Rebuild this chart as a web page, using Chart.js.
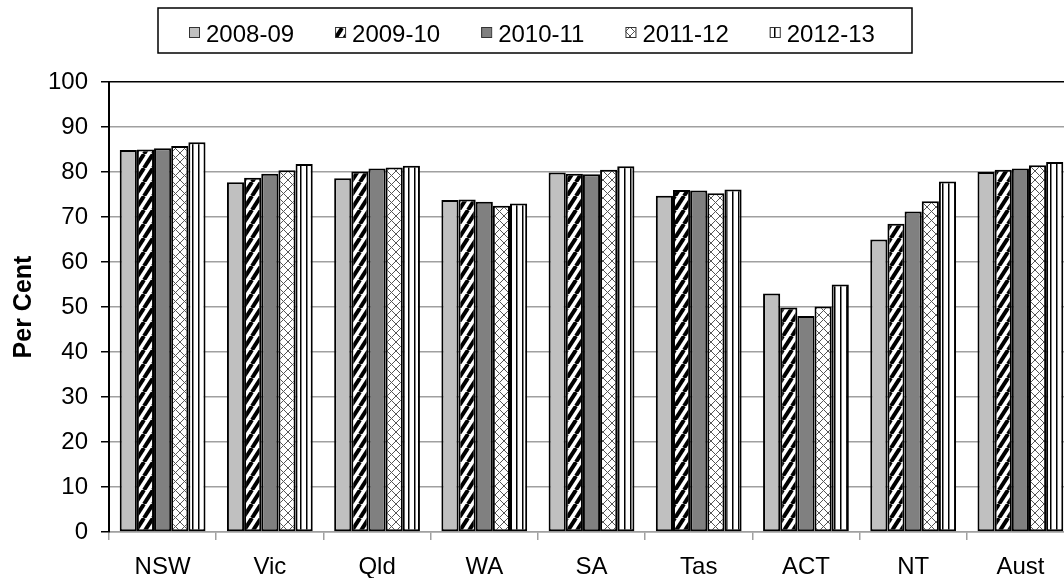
<!DOCTYPE html>
<html>
<head>
<title>Per Cent by state</title>
<script src="https://cdn.jsdelivr.net/npm/chart.js"></script>
<style>
  html, body { margin: 0; padding: 0; background: #fff; overflow: hidden; }
  .wrap { width: 1090px; height: 578px; position: relative; }
</style>
</head>
<body>
<div class="wrap"><canvas id="c"></canvas></div>
<script>
// data
const states = ['NSW', 'Vic', 'Qld', 'WA', 'SA', 'Tas', 'ACT', 'NT', 'Aust'];
const years = ['2008-09', '2009-10', '2010-11', '2011-12', '2012-13'];
const v0809 = [84.9, 77.7, 78.6, 73.8, 79.9, 74.7, 53.0, 65.0, 80.0];
const v0910 = [85.0, 78.7, 80.1, 73.9, 79.6, 76.0, 49.9, 68.5, 80.5];
const v1011 = [85.3, 79.6, 80.8, 73.4, 79.5, 75.9, 48.0, 71.2, 80.8];
const v1112 = [85.8, 80.4, 81.0, 72.5, 80.5, 75.3, 50.1, 73.5, 81.5];
const v1213 = [86.6, 81.8, 81.4, 73.0, 81.3, 76.1, 55.0, 77.9, 82.2];
const yMin = 0, yMax = 100, yStep = 10;
const yTitle = 'Per Cent';

const FONT = '"Liberation Sans", Arial, sans-serif';

// fill patterns
function tile(w, h, draw) {
  const c = document.createElement('canvas');
  c.width = w; c.height = h;
  const g = c.getContext('2d');
  g.fillStyle = '#fff';
  g.fillRect(0, 0, w, h);
  draw(g);
  return document.createElement('canvas').getContext('2d').createPattern(c, 'repeat');
}
const stripes = tile(9, 14, g => {
  g.strokeStyle = '#000';
  g.lineWidth = 4;
  for (let k = -1; k <= 1; k++) {
    g.beginPath();
    g.moveTo(k * 9, 14);
    g.lineTo(k * 9 + 9, 0);
    g.stroke();
  }
});
const cross = tile(9, 9, g => {
  g.strokeStyle = '#555';
  g.lineWidth = 1;
  g.beginPath();
  g.moveTo(0, 0); g.lineTo(9, 9);
  g.moveTo(9, 0); g.lineTo(0, 9);
  g.stroke();
});
const vlines = tile(6, 6, g => {
  g.fillStyle = '#000';
  g.fillRect(0, 0, 1.5, 6);
});

const fills = ['#c0c0c0', stripes, '#808080', cross, vlines];
const series = [v0809, v0910, v1011, v1112, v1213];

// boxed legend like the original
const boxLegend = {
  id: 'boxLegend',
  afterDraw(chart) {
    const ctx = chart.ctx;
    ctx.save();
    ctx.lineWidth = 1.5;
    ctx.strokeStyle = '#000';
    ctx.strokeRect(158, 8, 754, 45);
    ctx.font = '24px ' + FONT;
    ctx.textBaseline = 'alphabetic';
    let x = 189;
    chart.data.datasets.forEach(ds => {
      ctx.fillStyle = ds.backgroundColor;
      ctx.fillRect(x, 27, 10, 10);
      ctx.lineWidth = 1;
      ctx.strokeStyle = '#333';
      ctx.strokeRect(x + 0.5, 27.5, 10, 10);
      ctx.fillStyle = '#000';
      ctx.fillText(ds.label, x + 17, 42);
      x += 17 + ctx.measureText(ds.label).width + 41;
    });
    ctx.restore();
  }
};

new Chart(document.getElementById('c'), {
  type: 'bar',
  data: {
    labels: states,
    datasets: years.map((y, i) => ({
      label: y,
      data: series[i],
      backgroundColor: fills[i],
      borderColor: '#000',
      borderWidth: 2,
      borderSkipped: false,
      categoryPercentage: 0.8,
      barPercentage: 1.0
    }))
  },
  options: {
    responsive: true,
    maintainAspectRatio: false,
    animation: false,
    layout: { padding: { top: 82, right: 16, left: 0, bottom: 0 } },
    plugins: {
      legend: { display: false },
      tooltip: { enabled: false }
    },
    scales: {
      x: {
        grid: { drawOnChartArea: false, color: '#a0a0a0', lineWidth: 1.5, tickLength: 8, offset: true },
        border: { color: '#a0a0a0', width: 1.5 },
        ticks: { font: { family: FONT, size: 24 }, color: '#000', padding: 13, maxRotation: 0 },
        afterFit(s) { s.height = 46; }
      },
      y: {
        min: yMin,
        max: yMax,
        ticks: { stepSize: yStep, font: { family: FONT, size: 24 }, color: '#000', padding: 13 },
        grid: {
          color: c => c.tick && c.tick.value === yMax ? '#000' : '#a0a0a0',
          tickColor: '#000',
          tickLength: 8,
          lineWidth: 1.5
        },
        border: { color: '#000', width: 2 },
        title: {
          display: true,
          text: yTitle,
          color: '#000',
          font: { family: FONT, size: 25, weight: 'bold' },
          padding: { top: 9, bottom: 0 }
        },
        afterFit(s) { s.width = 109; }
      }
    }
  },
  plugins: [boxLegend]
});
</script>
</body>
</html>
